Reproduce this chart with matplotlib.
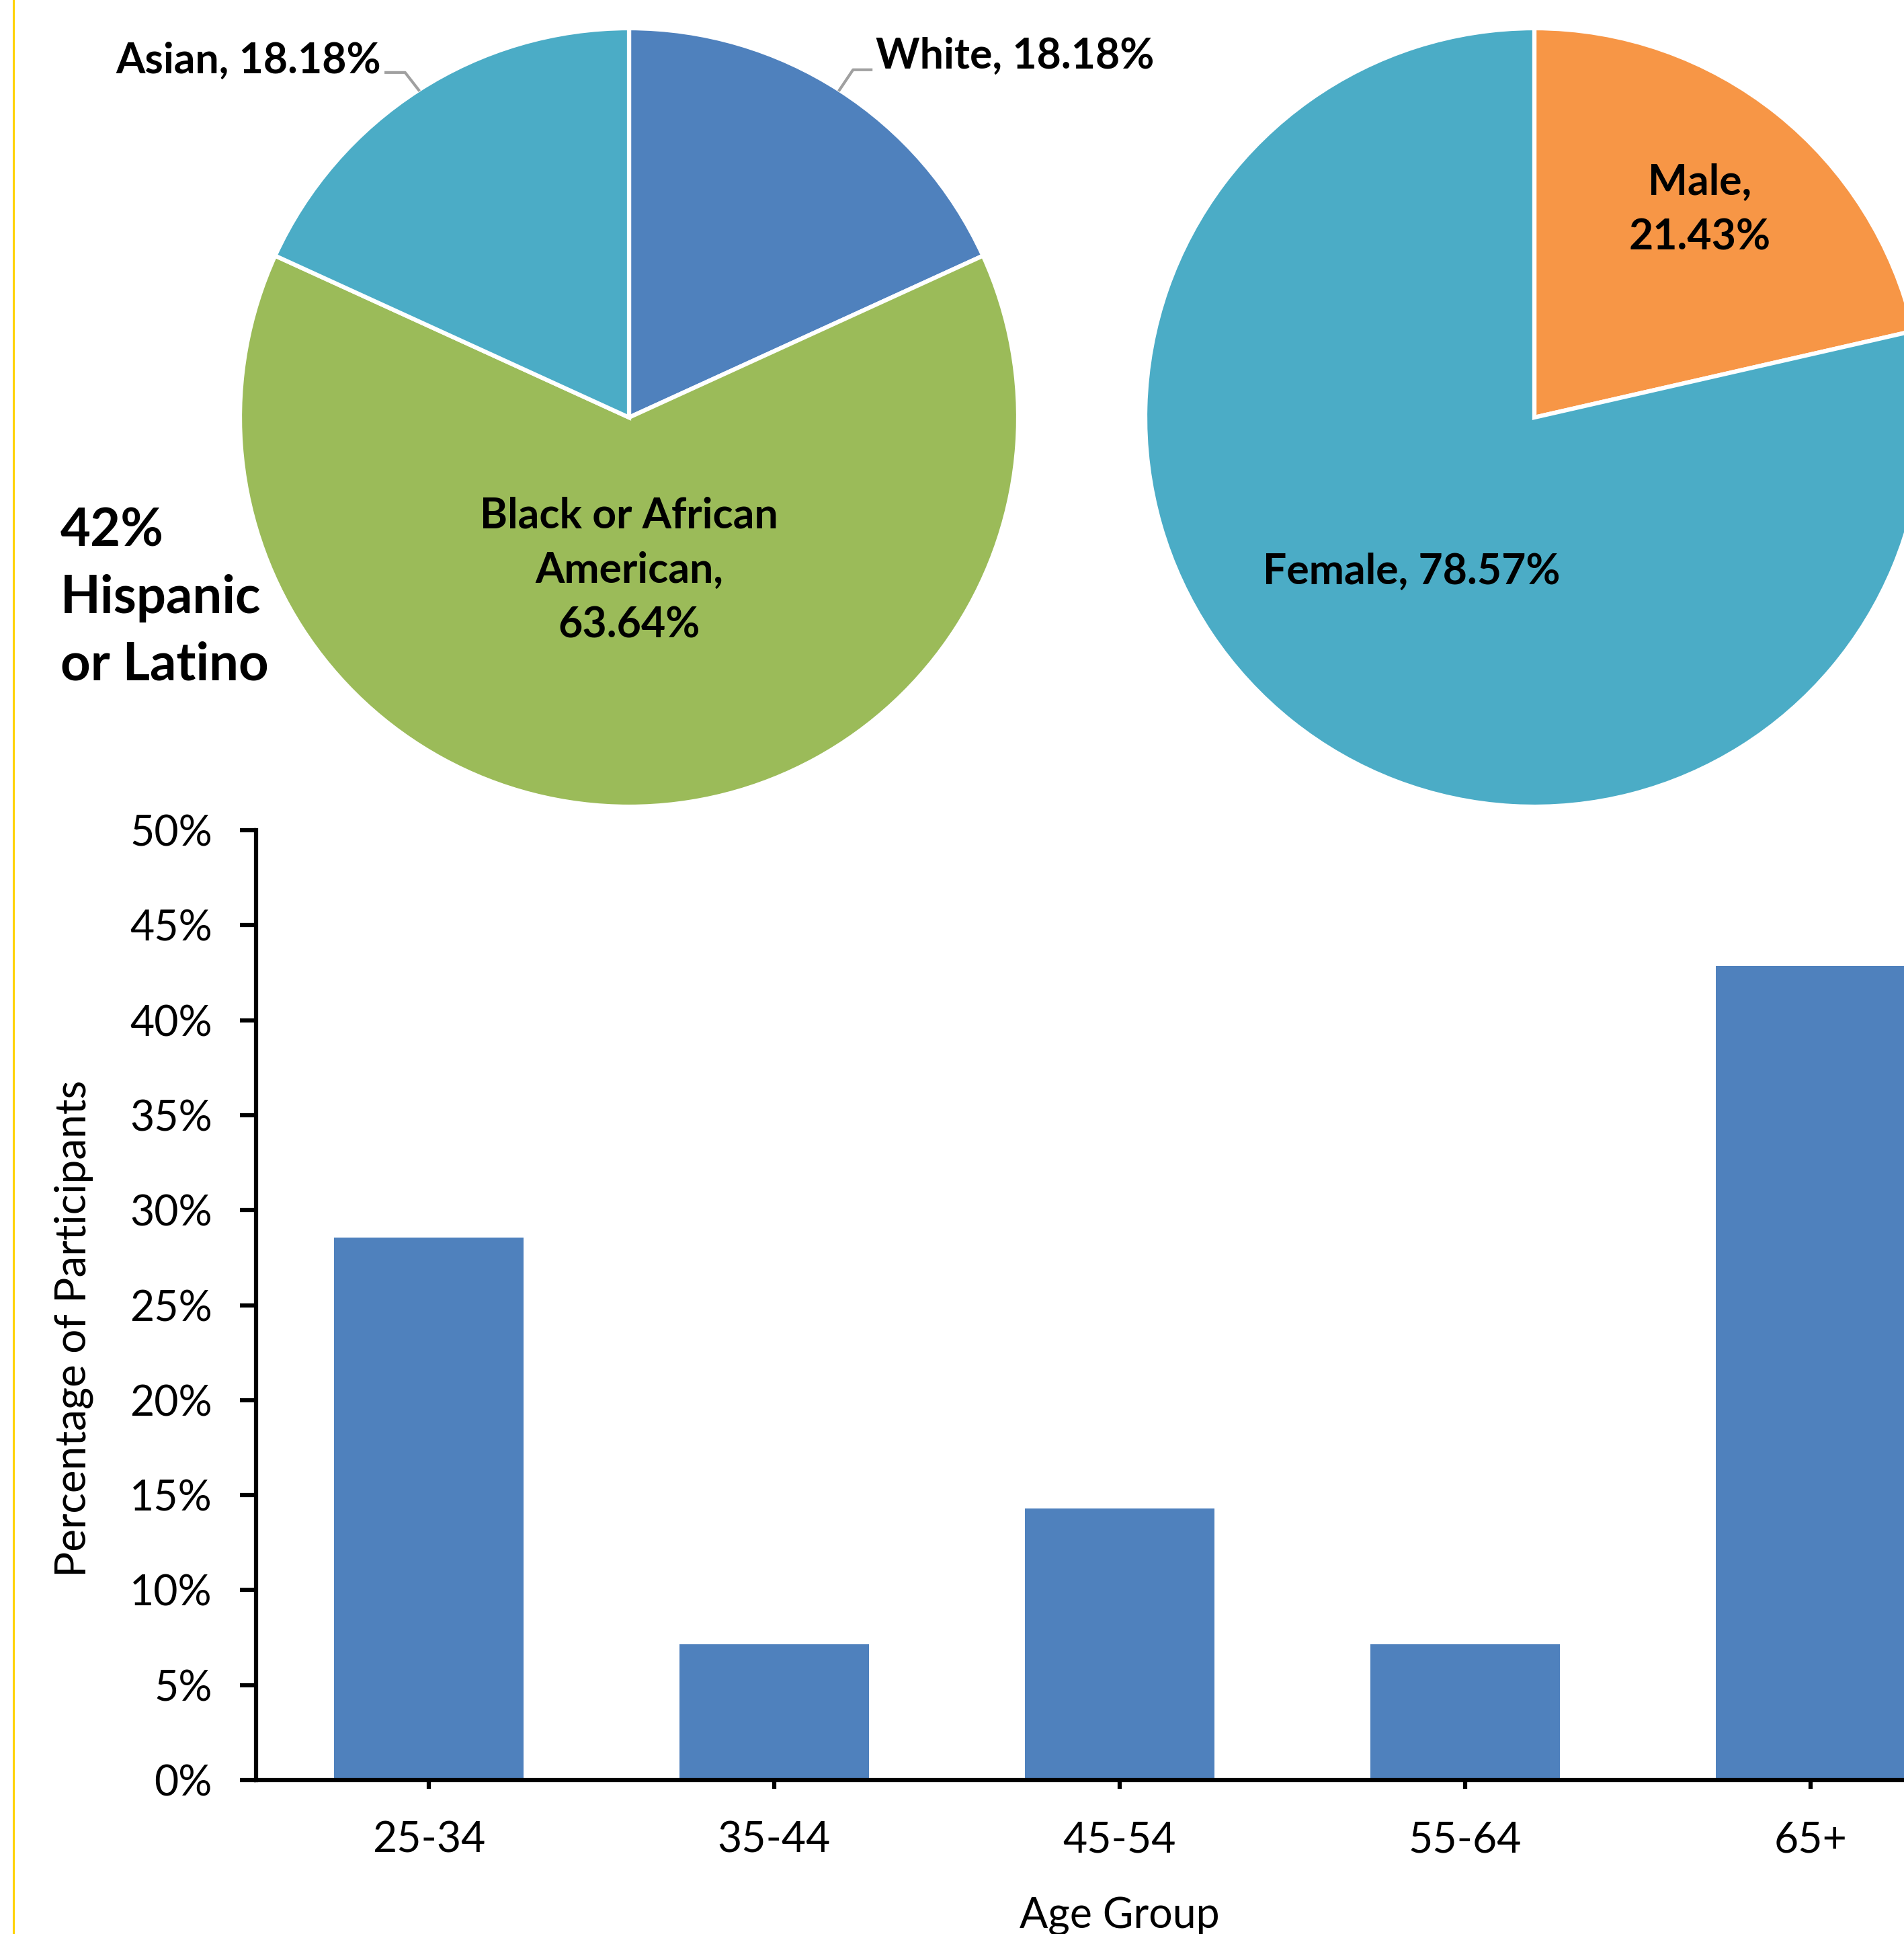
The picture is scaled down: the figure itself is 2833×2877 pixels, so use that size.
import matplotlib
matplotlib.use("Agg")
import matplotlib.pyplot as plt
from matplotlib.lines import Line2D
import numpy as np

# ---------------- data ----------------
race_labels = ["White", "Black or African\nAmerican", "Asian"]
race_values = [18.18, 63.64, 18.18]
race_colors = ["#4F81BD", "#9BBB59", "#4BACC6"]

sex_labels = ["Male", "Female"]
sex_values = [21.43, 78.57]
sex_colors = ["#F79646", "#4BACC6"]

age_groups = ["25-34", "35-44", "45-54", "55-64", "65+"]
age_values = [28.57, 7.14, 14.29, 7.14, 42.86]
y_ticks = [0, 5, 10, 15, 20, 25, 30, 35, 40, 45, 50]

hispanic_text = "42%\nHispanic\nor Latino"

# ---------------- figure ----------------
W, H = 2833, 2877
plt.rcParams['font.family'] = ['Lato', 'DejaVu Sans']
fig = plt.figure(figsize=(W / 100, H / 100), dpi=100)
fig.patch.set_facecolor("white")

LBL = 45  # bold label size
TXT = 45  # regular text size
R = 579   # pie radius in px


def pie_axes(cx, cy, r):
    ax = fig.add_axes([(cx - r) / W, 1 - (cy + r) / H, 2 * r / W, 2 * r / H])
    return ax


def fmt(lbl, v, sep=", "):
    return f"{lbl}{sep}{v:.2f}%"


def rim(w):
    a = np.deg2rad((w.theta1 + w.theta2) / 2)
    return np.cos(a), np.sin(a)


# ---- race pie ----
ax1 = pie_axes(936, 621, R)
w1, _ = ax1.pie(race_values, colors=race_colors, startangle=90, counterclock=False,
                radius=1.0, wedgeprops=dict(edgecolor="white", linewidth=4.5))
ax1.set_xlim(-1, 1)
ax1.set_ylim(-1, 1)
ax1.set_aspect("auto")
ax1.axis("off")

# Asian (outside, left)
rx, ry = rim(w1[2])
ax1.plot([rx, rx - 0.035, -0.625], [ry, ry + 0.045, ry + 0.045], color="#A0A0A0",
         lw=3, clip_on=False)
ax1.text(-0.638, 0.915, fmt(race_labels[2], race_values[2]), ha="right", va="center",
         fontsize=LBL, fontweight="bold", clip_on=False)
# White (outside, right)
rx, ry = rim(w1[0])
ax1.plot([rx, rx + 0.035, 0.622], [ry, ry + 0.052, ry + 0.052], color="#A0A0A0",
         lw=3, clip_on=False)
ax1.text(0.634, 0.928, fmt(race_labels[0], race_values[0]), ha="left", va="center",
         fontsize=LBL, fontweight="bold", clip_on=False)
# Black (inside)
ax1.text(0.0, -0.394, fmt(race_labels[1], race_values[1], sep=",\n"), ha="center",
         va="center", fontsize=LBL, fontweight="bold", linespacing=1.5)

# ---- sex pie ----
ax2 = pie_axes(2283, 621, R)
w2, _ = ax2.pie(sex_values, colors=sex_colors, startangle=90, counterclock=False,
                radius=1.0, wedgeprops=dict(edgecolor="white", linewidth=4.5))
ax2.set_xlim(-1, 1)
ax2.set_ylim(-1, 1)
ax2.set_aspect("auto")
ax2.axis("off")
ax2.text(0.425, 0.533, fmt(sex_labels[0], sex_values[0], sep=",\n"), ha="center",
         va="center", fontsize=LBL, fontweight="bold", linespacing=1.5)
ax2.text(-0.316, -0.397, fmt(sex_labels[1], sex_values[1]), ha="center",
         va="center", fontsize=LBL, fontweight="bold")

# ---- Hispanic annotation ----
fig.text(90 / W, 1 - 890 / H, hispanic_text, ha="left", va="center",
         fontsize=56, fontweight="bold", linespacing=1.47)

# ---- bar chart ----
ax3 = fig.add_axes([381 / W, 1 - 2648 / H, 2570 / W, 1413 / H])
x = np.arange(len(age_groups))
ax3.bar(x, age_values, width=0.55, color="#4F81BD", zorder=2)
ax3.set_xlim(-0.5, len(age_groups) - 0.5)
ax3.set_ylim(0, 50)
ax3.set_xticks(x)
ax3.set_xticklabels(age_groups, fontsize=TXT)
ax3.set_yticks(y_ticks)
ax3.set_yticklabels([f"{v}%" for v in y_ticks], fontsize=TXT)
for s in ["top", "right"]:
    ax3.spines[s].set_visible(False)
for s in ["left", "bottom"]:
    ax3.spines[s].set_linewidth(4.5)
    ax3.spines[s].set_zorder(3)
ax3.tick_params(axis="y", length=17, width=4.5, pad=30)
ax3.tick_params(axis="x", length=9.5, width=4.5, pad=34)
ax3.set_xlabel("Age Group", fontsize=TXT)
ax3.set_ylabel("Percentage of Participants", fontsize=TXT + 1)
ax3.xaxis.set_label_coords(0.5, -0.123)
ax3.yaxis.set_label_coords(-0.094, 0.475)

# ---- thin gold rule at left edge ----
fig.add_artist(Line2D([20 / W, 20 / W], [0, 1], transform=fig.transFigure,
                      color="#FFD200", lw=2.2))

fig.savefig("out.png", dpi=100, facecolor="white")
